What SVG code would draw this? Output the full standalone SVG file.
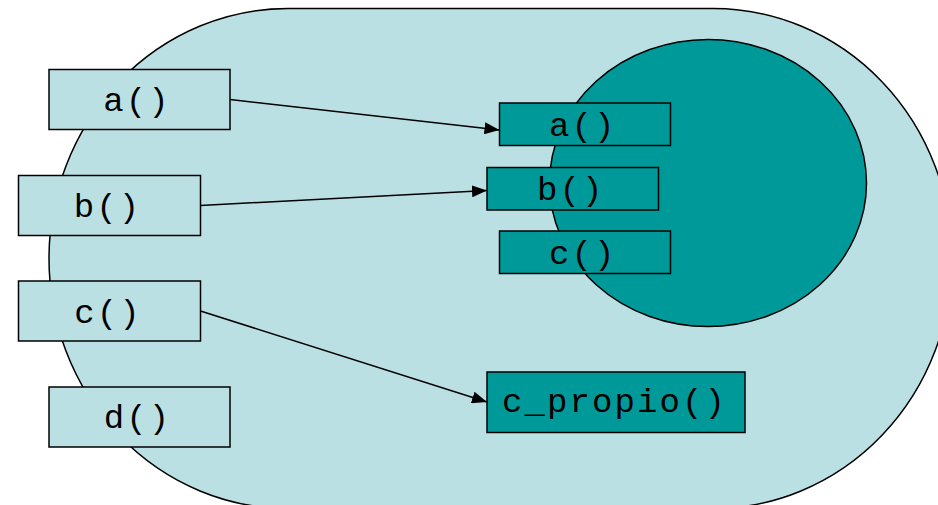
<svg xmlns="http://www.w3.org/2000/svg" width="938" height="505" viewBox="0 0 938 505">
<style>
.light{fill:#BBE0E3;stroke:#000;stroke-width:1.5}
.dark{fill:#009999;stroke:#000;stroke-width:1.5}
.lbl{font-family:"Liberation Mono","Courier New",monospace;font-size:34px;letter-spacing:2.1px;fill:#000;text-anchor:middle}
.conn{stroke:#000;stroke-width:1.5;fill:none;marker-end:url(#arr)}
</style>
<defs>
<marker id="arr" markerUnits="userSpaceOnUse" markerWidth="16" markerHeight="12" refX="15" refY="6" orient="auto">
<path d="M0,0 L15,6 L0,12 z" fill="#000"/>
</marker>
</defs>
<rect width="938" height="505" fill="#fff"/>
<g id="object">
<rect class="light" x="49" y="8.5" width="903" height="500" rx="239" ry="250"/>
</g>
<g id="core">
<ellipse class="dark" cx="708" cy="183" rx="158.5" ry="143.5"/>
</g>
<g id="left-a"><rect class="light" x="49" y="69.5" width="181" height="60"/><text class="lbl" x="137" y="110.5">a()</text></g>
<g id="left-b"><rect class="light" x="18.5" y="175.5" width="182" height="60"/><text class="lbl" x="107.4" y="216.5">b()</text></g>
<g id="left-c"><rect class="light" x="18.5" y="281" width="182" height="60"/><text class="lbl" x="108" y="323">c()</text></g>
<g id="left-d"><rect class="light" x="49" y="387" width="181" height="60"/><text class="lbl" x="137.4" y="428">d()</text></g>
<g id="right-a"><rect class="dark" x="499.5" y="103" width="171" height="42.5"/><text class="lbl" x="582.7" y="135.5">a()</text></g>
<g id="right-b"><rect class="dark" x="487" y="167.5" width="171.5" height="42.5"/><text class="lbl" x="570.7" y="200">b()</text></g>
<g id="right-c"><rect class="dark" x="499.5" y="231" width="171" height="42.5"/><text class="lbl" x="582.7" y="263.5">c()</text></g>
<g id="c-propio"><rect class="dark" x="487" y="372" width="258" height="60.5"/><text class="lbl" x="614.4" y="412">c_propio()</text></g>
<g id="connectors">
<line class="conn" x1="230" y1="99.5" x2="499.5" y2="130"/>
<line class="conn" x1="200.5" y1="205.5" x2="487" y2="190.5"/>
<line class="conn" x1="200.5" y1="311" x2="487" y2="402"/>
</g>
</svg>
